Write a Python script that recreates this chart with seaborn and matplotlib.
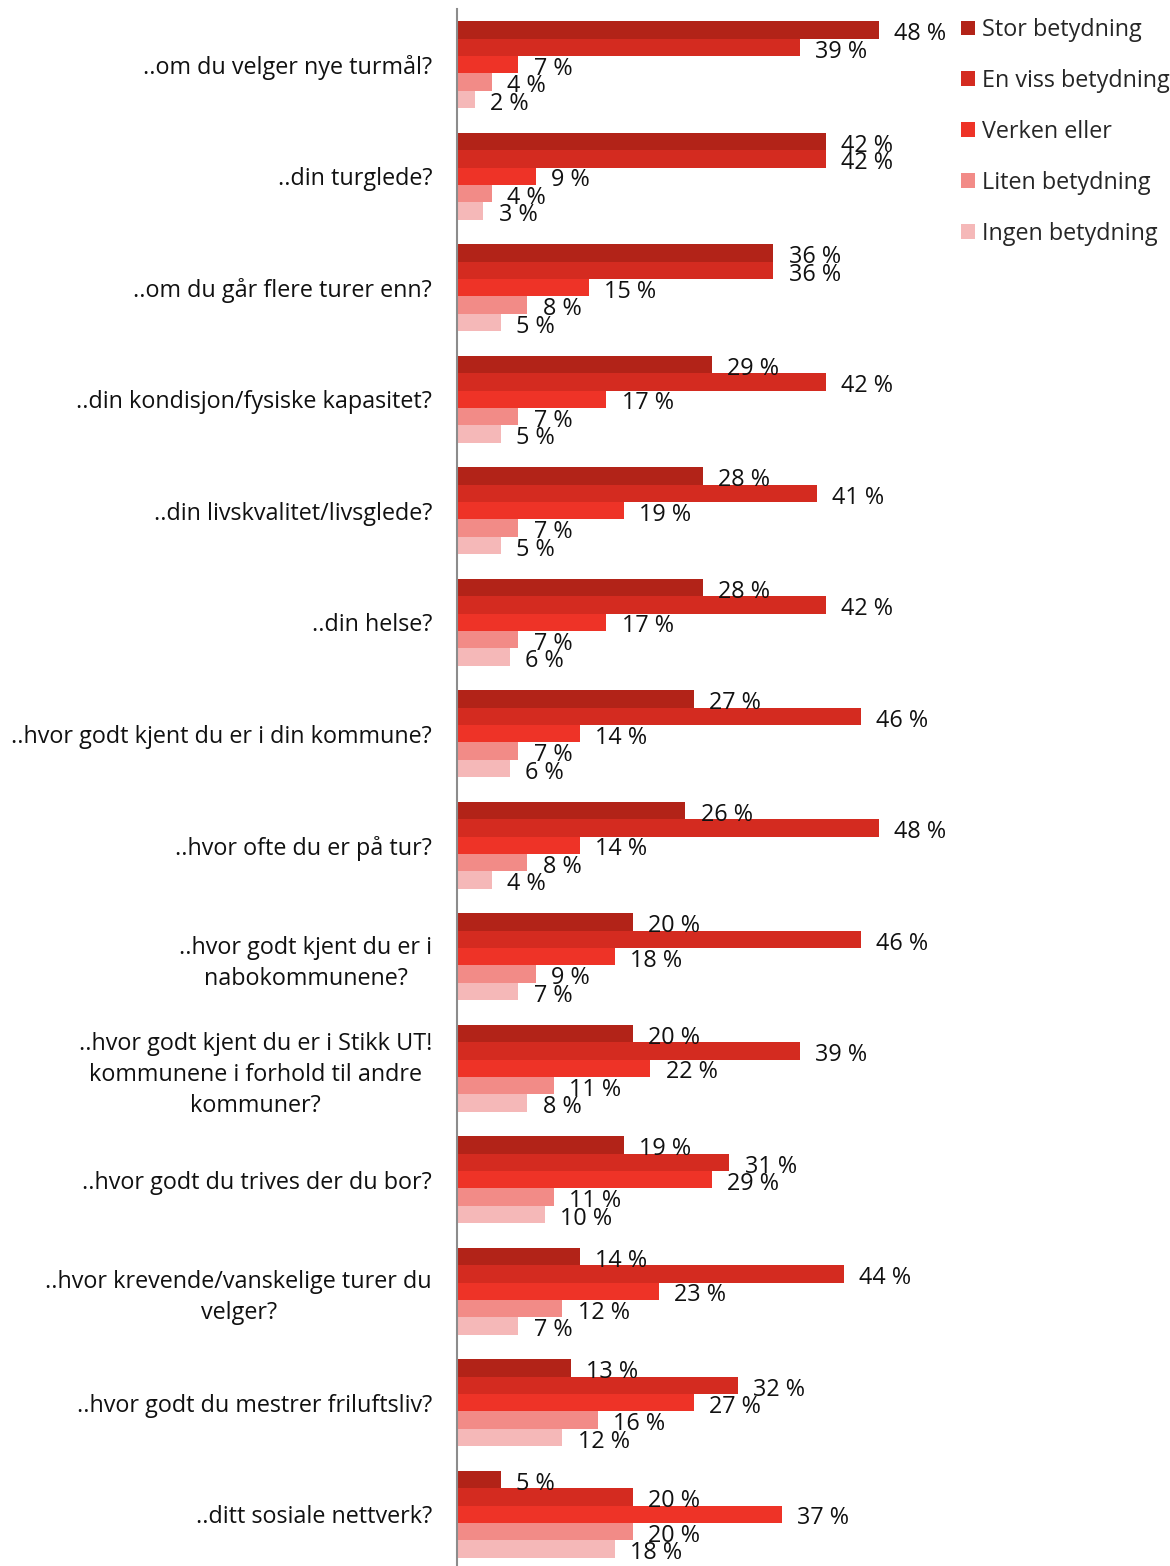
import matplotlib
matplotlib.use("Agg")
import matplotlib.pyplot as plt
import seaborn as sns
import pandas as pd
from matplotlib.patches import Patch

questions = [
    "..om du velger nye turmål?",
    "..din turglede?",
    "..om du går flere turer enn?",
    "..din kondisjon/fysiske kapasitet?",
    "..din livskvalitet/livsglede?",
    "..din helse?",
    "..hvor godt kjent du er i din kommune?",
    "..hvor ofte du er på tur?",
    "..hvor godt kjent du er i\nnabokommunene?",
    "..hvor godt kjent du er i Stikk UT!\nkommunene i forhold til andre\nkommuner?",
    "..hvor godt du trives der du bor?",
    "..hvor krevende/vanskelige turer du\nvelger?",
    "..hvor godt du mestrer friluftsliv?",
    "..ditt sosiale nettverk?",
]
categories = ["Stor betydning", "En viss betydning", "Verken eller",
              "Liten betydning", "Ingen betydning"]
stor = [48, 42, 36, 29, 28, 28, 27, 26, 20, 20, 19, 14, 13, 5]
viss = [39, 42, 36, 42, 41, 42, 46, 48, 46, 39, 31, 44, 32, 20]
verken = [7, 9, 15, 17, 19, 17, 14, 14, 18, 22, 29, 23, 27, 37]
liten = [4, 4, 8, 7, 7, 7, 7, 8, 9, 11, 11, 12, 16, 20]
ingen = [2, 3, 5, 5, 5, 6, 6, 4, 7, 8, 10, 7, 12, 18]
colors = ["#B22318", "#D42B20", "#EE3327", "#F28B87", "#F5B8B8"]

series = [stor, viss, verken, liten, ingen]
rows = []
for cat, vals in zip(categories, series):
    for q, v in zip(questions, vals):
        rows.append({"question": q, "value": v, "category": cat})
df = pd.DataFrame(rows)

sns.set_style("white")
plt.rcParams["font.family"] = ["Open Sans", "DejaVu Sans"]

FS = 16.8
fig = plt.figure(figsize=(11.7, 15.66), dpi=100)
ax = fig.add_axes([457 / 1170, (1566 - 1570) / 1566, 0.428, 1561 / 1566])

sns.barplot(data=df, y="question", x="value", hue="category", orient="h",
            order=questions, hue_order=categories, palette=colors,
            saturation=1, width=0.78, dodge=True, linewidth=0,
            legend=False, ax=ax)

for cont in ax.containers:
    anns = ax.bar_label(cont, labels=[f"{int(v)} %" for v in cont.datavalues],
                        padding=11, fontsize=FS, color="#111111")
    for a in anns:
        a.xyann = (11, -3)

ax.set_xlim(0, 57)
ax.set_ylim(13.5, -0.5)
ax.set_xlabel("")
ax.set_ylabel("")
ax.set_xticks([])
for s in ["top", "right", "bottom"]:
    ax.spines[s].set_visible(False)
ax.spines["left"].set_color("#8C8C8C")
ax.spines["left"].set_linewidth(1.5)
ax.tick_params(axis="y", length=0, pad=18, labelsize=FS, labelcolor="#111111")
for lab in ax.get_yticklabels():
    lab.set_multialignment("center")
    lab.set_linespacing(1.4)

handles = [Patch(facecolor=c, edgecolor="none") for c in colors]
fig.legend(handles, categories, loc="upper left", bbox_to_anchor=(946 / 1170, 0.998),
           frameon=False, fontsize=FS, handlelength=0.6, handleheight=0.6,
           handletextpad=0.3, labelspacing=1.15, borderaxespad=0.25)

fig.savefig("out.png", dpi=100)
